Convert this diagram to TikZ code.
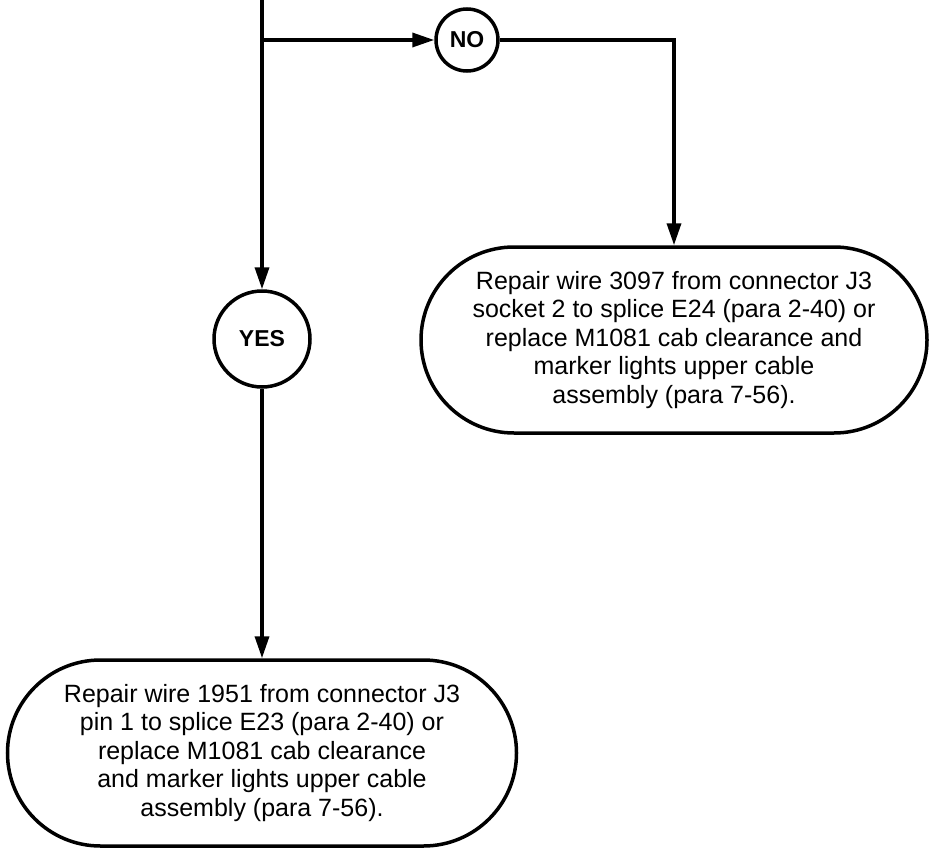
\documentclass[tikz,border=0pt]{standalone}
\usepackage{fontspec}
\setmainfont{Liberation Sans}
\usetikzlibrary{arrows.meta,shapes.misc}

\begin{document}
\begin{tikzpicture}[x=1pt, y=-1pt, line width=3.5pt,
  >={Triangle[length=22pt,width=14pt]},
  answer/.style={circle, draw, inner sep=0pt, font=\fontsize{23}{23}\selectfont\bfseries},
  action/.style={rounded rectangle, draw, align=center, inner sep=0pt,
    minimum height=186pt, font=\fontsize{25}{28.5}\selectfont}]
\useasboundingbox (0,0) rectangle (931,856);
% ---------- answers ----------
\node[answer, minimum size=62pt] (no) at (467,40) {NO};
\node[answer, minimum size=96pt] (yes) at (262,339) {YES};
% ---------- actions ----------
\node[action, minimum width=506pt] (fixA) at (674,340)
  {Repair wire 3097 from connector J3\\ socket 2 to splice E24 (para 2-40) or\\
   replace M1081 cab clearance and\\ marker lights upper cable\\ assembly (para 7-56).};
\node[action, minimum width=509pt] (fixB) at (262,753)
  {Repair wire 1951 from connector J3\\ pin 1 to splice E23 (para 2-40) or\\
   replace M1081 cab clearance\\ and marker lights upper cable\\ assembly (para 7-56).};
% ---------- connectors ----------
\coordinate (top) at (262,0);
\coordinate (split) at (262,40);
\draw[->] (top) -- (yes);
\draw[->] (split) -- (no);
\draw[->] (no) -| (fixA);
\draw[->] (yes) -- (fixB);
\end{tikzpicture}
\end{document}
